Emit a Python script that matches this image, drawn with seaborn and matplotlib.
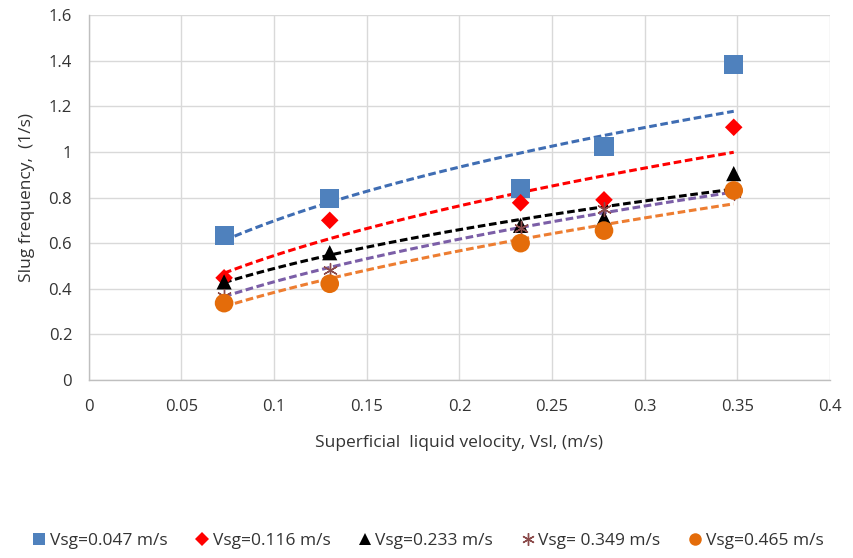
import numpy as np
import pandas as pd
import matplotlib
matplotlib.use("Agg")
import matplotlib.pyplot as plt
import seaborn as sns

# ---- data ----
vsl = [0.073, 0.130, 0.233, 0.278, 0.348]
labels = ["Vsg=0.047 m/s", "Vsg=0.116 m/s", "Vsg=0.233 m/s", "Vsg= 0.349 m/s", "Vsg=0.465 m/s"]
f_047 = [0.634, 0.797, 0.838, 1.023, 1.382]
f_116 = [0.448, 0.700, 0.777, 0.790, 1.108]
f_233 = [0.430, 0.558, 0.678, 0.710, 0.905]
f_349 = [0.370, 0.483, 0.665, 0.748, 0.820]
f_465 = [0.337, 0.422, 0.600, 0.655, 0.831]
x_ticks = [0, 0.05, 0.1, 0.15, 0.2, 0.25, 0.3, 0.35, 0.4]
x_tick_labels = ["0", "0.05", "0.1", "0.15", "0.2", "0.25", "0.3", "0.35", "0.4"]
y_ticks = [0, 0.2, 0.4, 0.6, 0.8, 1.0, 1.2, 1.4, 1.6]
y_tick_labels = ["0", "0.2", "0.4", "0.6", "0.8", "1", "1.2", "1.4", "1.6"]

series = [f_047, f_116, f_233, f_349, f_465]
marker_colors = ["#4F81BD", "#FF0000", "#000000", "#8B4A4A", "#E46C0A"]
line_colors = ["#3F6DB3", "#FF0000", "#000000", "#7B5EA7", "#ED7D31"]
markers = ["s", "D", "^", (6, 2, 0), "o"]
sizes = [190, 80, 120, 100, 180]

sns.set_theme(style="white")
plt.rcParams["font.family"] = ["Open Sans", "DejaVu Sans"]

fig = plt.figure(figsize=(8.54, 5.58), dpi=100)
ax = fig.add_axes([0.104, 0.319, 0.868, 0.654])

handles = []
for ys, lab, mc, lc, mk, sz in zip(series, labels, marker_colors, line_colors, markers, sizes):
    df = pd.DataFrame({"x": vsl, "y": ys})
    # Power trendline (log-log least squares fit, like Excel)
    b, a = np.polyfit(np.log(vsl), np.log(ys), 1)
    xx = np.linspace(min(vsl), max(vsl), 100)
    tf = pd.DataFrame({"x": xx, "y": np.exp(a) * xx ** b})
    sns.lineplot(data=tf, x="x", y="y", ax=ax, color=lc, lw=2.2,
                 linestyle=(0, (2.5, 1.2)), legend=False, zorder=2)
    if isinstance(mk, tuple):
        sns.scatterplot(data=df, x="x", y="y", ax=ax, marker=mk, s=sz,
                        color=mc, edgecolor=mc, linewidth=1.0, legend=False, zorder=3)
    else:
        sns.scatterplot(data=df, x="x", y="y", ax=ax, marker=mk, s=sz,
                        color=mc, edgecolor="none", linewidth=0, legend=False, zorder=3)
    h = plt.Line2D([], [], linestyle="none", marker=mk, color=mc,
                   markeredgecolor=mc, markersize=9 if mk != "D" else 7,
                   markeredgewidth=1.0 if isinstance(mk, tuple) else 0)
    handles.append(h)

ax.set_xlim(0, 0.4)
ax.set_ylim(0, 1.6)
ax.set_xticks(x_ticks)
ax.set_xticklabels(x_tick_labels)
ax.set_yticks(y_ticks)
ax.set_yticklabels(y_tick_labels)
ax.grid(True, color="#D9D9D9", linewidth=1.0)
ax.set_axisbelow(True)
for s in ["top", "right"]:
    ax.spines[s].set_visible(False)
for s in ["left", "bottom"]:
    ax.spines[s].set_color("#BFBFBF")
    ax.spines[s].set_linewidth(1.0)
ax.tick_params(axis="both", labelsize=12, colors="#333333", length=0)
ax.tick_params(axis="y", pad=12)
ax.tick_params(axis="x", pad=14)
ax.set_xlabel("Superficial  liquid velocity, Vsl, (m/s)", fontsize=12.5, color="#333333", labelpad=14)
ax.set_ylabel("Slug frequency,  (1/s)", fontsize=12.5, color="#333333", labelpad=10)

fig.legend(handles, labels, loc="center", bbox_to_anchor=(0.5, 0.03), ncol=5,
           frameon=False, fontsize=12.5, handletextpad=0.1, columnspacing=1.5,
           handlelength=1.0, labelcolor="#333333")

fig.savefig("out.png", dpi=100)
